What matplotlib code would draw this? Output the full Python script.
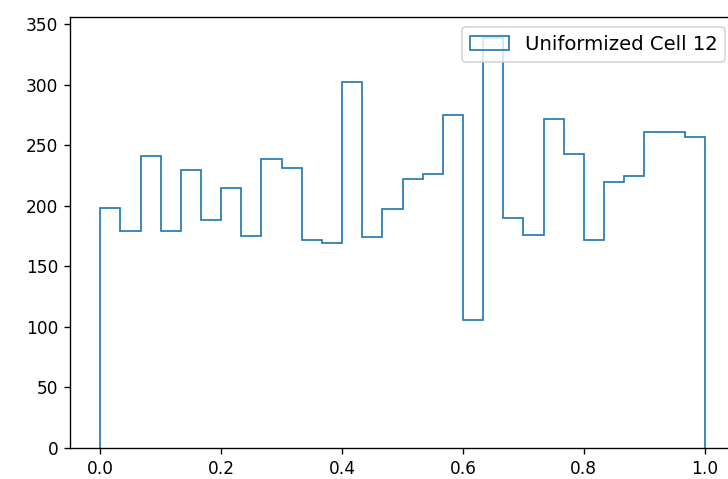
import numpy as np
import matplotlib
matplotlib.use("Agg")
import matplotlib.pyplot as plt

# counts per bin, 30 equal bins over [0, 1]
bin_edges = np.linspace(0.0, 1.0, 31)
counts = [198, 179, 241, 179, 230, 188, 215, 175, 239, 231,
          172, 169, 302, 174, 197, 222, 226, 275, 106, 339,
          190, 176, 272, 243, 172, 220, 225, 261, 261, 257]
label = "Uniformized Cell 12"

centers = 0.5 * (bin_edges[:-1] + bin_edges[1:])

dpi = 122
fig = plt.figure(figsize=(728 / dpi, 479 / dpi), dpi=dpi)
# the axes run a bit past the right edge of the canvas
ax = fig.add_axes([70 / 728, 1 - 448 / 479, 665 / 728, 431 / 479])
ax.hist(centers, bins=bin_edges, weights=counts, histtype="step", label=label)
ax.set_xticks([0.0, 0.2, 0.4, 0.6, 0.8, 1.0])
ax.legend(loc="upper right", fontsize=11.6)
plt.savefig("out.png", dpi=dpi)
plt.close()
